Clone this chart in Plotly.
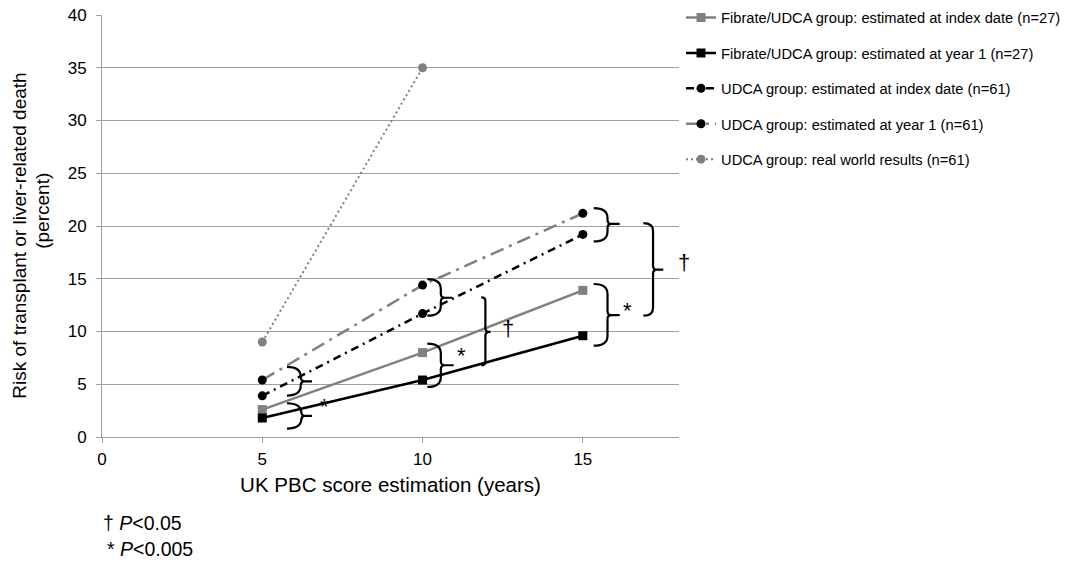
import plotly.graph_objects as go

# ---------------- data ----------------
years = [5, 10, 15]
fib_index = [2.6, 8.0, 13.9]
fib_year1 = [1.8, 5.4, 9.6]
udca_index = [3.9, 11.7, 19.2]
udca_year1 = [5.4, 14.4, 21.2]
real_years = [5, 10]
udca_real = [9.0, 35.0]

names = [
    "Fibrate/UDCA group: estimated at index date (n=27)",
    "Fibrate/UDCA group: estimated at year 1 (n=27)",
    "UDCA group: estimated at index date (n=61)",
    "UDCA group: estimated at year 1 (n=61)",
    "UDCA group: real world results (n=61)",
]

x_ticks = [0, 5, 10, 15]
y_ticks = [0, 5, 10, 15, 20, 25, 30, 35, 40]

# significance braces: left x, vertical x, tip x, top y, bottom y, mid y
brace_xl = [5.77, 5.77, 10.15, 10.15, 11.83, 15.34, 15.34, 16.89]
brace_xv = [6.22, 6.20, 10.57, 10.57, 11.96, 15.77, 15.77, 17.19]
brace_xt = [6.55, 6.55, 10.93, 10.97, 12.12, 16.15, 16.15, 17.51]
brace_top = [3.2, 6.65, 14.96, 8.85, 13.24, 21.7, 14.5, 20.28]
brace_bot = [0.8, 3.93, 11.5, 4.75, 6.8, 18.54, 8.66, 11.5]
brace_mid = [2.0, 5.28, 13.2, 6.8, 9.96, 20.2, 11.55, 15.86]

# significance labels
sig_text = ["*", "*", "\u2020", "*", "\u2020"]
sig_x = [6.94, 11.2, 12.66, 16.4, 18.16]
sig_y = [2.9, 7.7, 10.3, 12.0, 16.5]

FONT = "Liberation Sans, Arial, sans-serif"
GRAY = "#808080"

fig = go.Figure()

fig.add_trace(go.Scatter(
    x=years, y=fib_index, name=names[0], mode="lines+markers",
    line=dict(color=GRAY, width=2.5),
    marker=dict(symbol="square", size=9, color=GRAY), legendgroup="a"))
fig.add_trace(go.Scatter(
    x=years, y=fib_year1, name=names[1], mode="lines+markers",
    line=dict(color="#000000", width=2.5),
    marker=dict(symbol="square", size=9, color="#000000"), legendgroup="b"))
fig.add_trace(go.Scatter(
    x=years, y=udca_index, name=names[2], mode="lines+markers",
    line=dict(color="#000000", width=2.5, dash="8px,5px,2px,5px"),
    marker=dict(symbol="circle", size=9, color="#000000"), legendgroup="c"))
fig.add_trace(go.Scatter(
    x=years, y=udca_year1, name=names[3], mode="lines+markers",
    line=dict(color=GRAY, width=2.5, dash="14px,6px,3px,6px"),
    marker=dict(symbol="circle", size=9, color="#000000"), legendgroup="d"))
fig.add_trace(go.Scatter(
    x=real_years, y=udca_real, name=names[4], mode="lines+markers",
    line=dict(color=GRAY, width=2, dash="2px,3px"),
    marker=dict(symbol="circle", size=9, color=GRAY), legendgroup="e"))

# plot geometry for converting pixel-sized rounding into data units
PLOT_W, PLOT_H = 577, 422.5
XR, YR = 18.0, 40.0
XPX, YPX = XR / PLOT_W, YR / PLOT_H

shapes = []
for xl, xv, xt, yt, yb, ym in zip(brace_xl, brace_xv, brace_xt, brace_top, brace_bot, brace_mid):
    hook_px = (xv - xl) / XPX
    ry = min(hook_px * 0.8, 10) * YPX
    ry2 = 4 * YPX
    dx2 = 4 * XPX
    path = (
        f"M {xl},{yt} Q {xv},{yt} {xv},{yt - ry} "
        f"L {xv},{ym + ry2} Q {xv},{ym} {xv + dx2},{ym} L {xt},{ym} "
        f"M {xv + dx2},{ym} Q {xv},{ym} {xv},{ym - ry2} "
        f"L {xv},{yb + ry} Q {xv},{yb} {xl},{yb}"
    )
    shapes.append(dict(type="path", xref="x", yref="y", path=path,
                       line=dict(color="#000000", width=2.2)))

annotations = []
for t, x, y in zip(sig_text, sig_x, sig_y):
    annotations.append(dict(x=x / XR, y=y, xref="paper", yref="y", text=t, showarrow=False,
                            xanchor="center", yanchor="middle",
                            font=dict(family=FONT, size=22, color="#000000")))

# y-axis title (two lines, as in the reference)
annotations.append(dict(x=-0.1421, y=0.477, xref="paper", yref="paper",
                        text="Risk of transplant or liver-related death", textangle=-90,
                        showarrow=False, xanchor="center", yanchor="middle",
                        font=dict(family=FONT, size=19, color="#000000")))
annotations.append(dict(x=-0.1023, y=0.536, xref="paper", yref="paper",
                        text="(percent)", textangle=-90,
                        showarrow=False, xanchor="center", yanchor="middle",
                        font=dict(family=FONT, size=19, color="#000000")))

annotations.append(dict(x=-0.001, y=-0.204, xref="paper", yref="paper",
                        text="\u2020 <i>P</i><0.05", showarrow=False,
                        xanchor="left", yanchor="middle",
                        font=dict(family=FONT, size=19.5, color="#000000")))
annotations.append(dict(x=0.005, y=-0.266, xref="paper", yref="paper",
                        text="* <i>P</i><0.005", showarrow=False,
                        xanchor="left", yanchor="middle",
                        font=dict(family=FONT, size=19.5, color="#000000")))

fig.update_layout(
    width=1068, height=563,
    margin=dict(l=94, r=397, t=7, b=133.5, pad=0, autoexpand=False),
    paper_bgcolor="white", plot_bgcolor="white",
    font=dict(family=FONT, color="#000000"),
    shapes=shapes, annotations=annotations,
    legend=dict(x=1.0035, y=1.032, xanchor="left", yanchor="top",
                font=dict(family=FONT, size=14.7, color="#000000"),
                tracegroupgap=13.3, bgcolor="rgba(0,0,0,0)"),
    showlegend=True,
)

fig.update_xaxes(
    range=[0, XR], tickvals=x_ticks, ticktext=[str(v) for v in x_ticks],
    showgrid=False, zeroline=False, showline=True, linecolor="#a0a0a0", linewidth=1,
    ticks="outside", ticklen=5, tickcolor="#a0a0a0", automargin=False,
    ticklabelstandoff=2, ticklabeloverflow="allow",
    tickfont=dict(family=FONT, size=17, color="#000000"),
    title=dict(text="UK PBC score estimation (years)",
               font=dict(family=FONT, size=20.5, color="#000000"), standoff=9),
)
fig.update_yaxes(
    range=[0, YR], tickvals=y_ticks,
    showgrid=True, gridcolor="#a0a0a0", gridwidth=1,
    zeroline=False, showline=True, linecolor="#a0a0a0", linewidth=1,
    ticks="outside", ticklen=5, tickcolor="#a0a0a0", automargin=False,
    ticklabelstandoff=6, ticklabeloverflow="allow",
    tickfont=dict(family=FONT, size=17, color="#000000"),
)

fig.write_html("out.html")
